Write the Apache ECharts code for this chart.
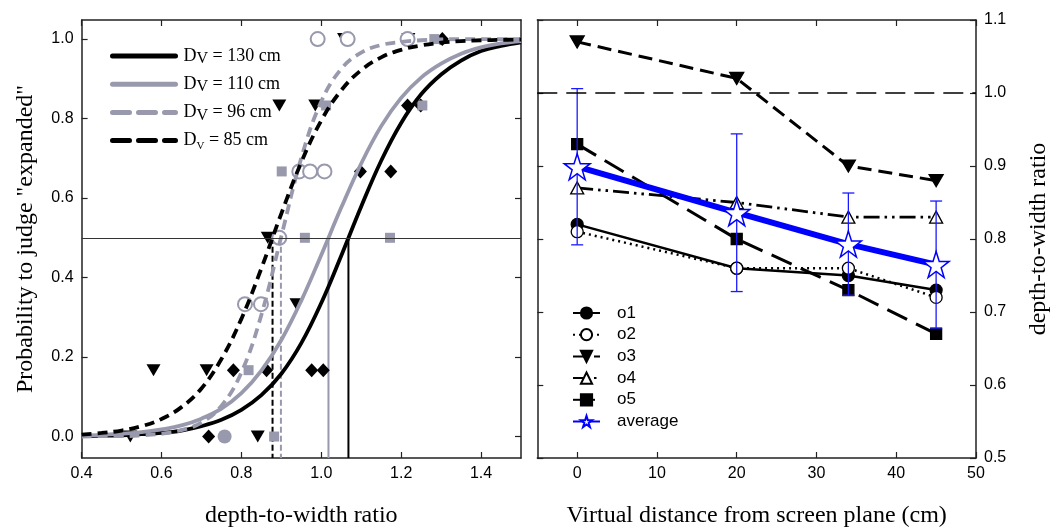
<!DOCTYPE html>
<html><head><meta charset="utf-8">
<script src="https://cdn.jsdelivr.net/npm/echarts@6/dist/echarts.min.js"></script>
<style>html,body{margin:0;padding:0;background:#fff;overflow:hidden}#c{width:1054px;height:527px}</style>
</head><body><div id="c"></div>
<script>
// ---- Left panel: psychometric curves ----
const curveX = [0.40,0.45,0.50,0.55,0.60,0.65,0.70,0.75,0.80,0.85,0.90,0.95,1.00,1.05,1.10,1.15,1.20,1.25,1.30,1.35,1.40,1.45,1.50];
const p130 = [0.001,0.002,0.003,0.006,0.009,0.015,0.026,0.042,0.067,0.104,0.158,0.235,0.336,0.455,0.579,0.694,0.789,0.861,0.911,0.946,0.970,0.983,0.992];
const p110 = [0.003,0.004,0.007,0.011,0.018,0.028,0.045,0.070,0.109,0.166,0.243,0.342,0.457,0.576,0.687,0.781,0.852,0.903,0.938,0.963,0.979,0.989,0.995];
const p96  = [0.000,0.001,0.001,0.003,0.007,0.016,0.035,0.077,0.161,0.306,0.504,0.701,0.843,0.925,0.966,0.985,0.993,0.997,0.999,1.000,1.000,1.000,1.000];
const p85  = [0.005,0.009,0.015,0.026,0.044,0.074,0.121,0.195,0.296,0.423,0.561,0.690,0.795,0.871,0.922,0.954,0.973,0.984,0.991,0.995,0.997,0.998,0.999];
const curveLabels = ['130','110','96','85'];
const pseValues = [1.068, 1.018, 0.899, 0.878];

// observed proportions
const pts130 = [[0.718,0],[0.78,0.167],[0.863,0.167],[0.976,0.167],[1.005,0.167],[1.098,0.667],[1.174,0.667],[1.216,0.833],[1.249,0.833],[1.303,1.0]];
const pts85  = [[0.522,0],[0.58,0.167],[0.713,0.167],[0.841,0],[0.866,0.5],[0.938,0.333],[0.895,0.833],[0.985,0.833],[1.057,1.0],[1.218,1.0]];
const pts110 = [[0.882,0],[0.818,0.167],[0.901,0.667],[0.959,0.5],[1.012,0.833],[1.172,0.5],[1.253,0.833],[1.283,1.0]];
const pts96  = [[0.991,1.0],[1.066,1.0],[1.216,1.0],[0.945,0.667],[0.972,0.667],[1.008,0.667],[0.895,0.5],[0.809,0.333],[0.849,0.333]];
const pts96b = [[0.758,0]];

// ---- Right panel ----
const distX = [0, 20, 34, 45];
const o1 = [0.82, 0.76, 0.75, 0.73];
const o2 = [0.81, 0.76, 0.76, 0.72];
const o3 = [1.07, 1.02, 0.90, 0.88];
const o4 = [0.87, 0.85, 0.83, 0.83];
const o5 = [0.93, 0.80, 0.73, 0.67];
const avg = [0.899, 0.836, 0.793, 0.765];
const avgErr = [0.107, 0.108, 0.070, 0.087];

const leftXTicks = [0.4,0.6,0.8,1.0,1.2,1.4];
const leftYTicks = [0,0.2,0.4,0.6,0.8,1.0];
const rightXTicks = [0,10,20,30,40,50];
const rightYTicks = [0.5,0.6,0.7,0.8,0.9,1.0,1.1];

const GRAY = '#9999ad';
const SANS = 'Liberation Sans';
const SERIF = 'Liberation Serif';
const LMIN = -0.054, LMAX = 1.048;

function ax(extra){
  return Object.assign({
    type:'value',
    axisLine:{show:true,onZero:false,lineStyle:{color:'#222',width:1.5}},
    splitLine:{show:false},
    axisLabel:{show:false}
  }, extra);
}
const tick = vals => ({show:true,inside:true,length:6,customValues:vals,lineStyle:{color:'#222',width:1.2}});
const lab = (vals, fmt) => ({show:true, customValues:vals, color:'#000', fontFamily:SANS, fontSize:16, formatter:fmt});
const titleStyle = {fontFamily:SERIF,fontSize:24,color:'#000'};

const xAxis = [
  ax({gridIndex:0, position:'bottom', min:0.4, max:1.5, axisTick:tick(leftXTicks),
      axisLabel:lab(leftXTicks, v=>v.toFixed(1)),
      name:'depth-to-width ratio', nameLocation:'middle', nameGap:46, nameTextStyle:titleStyle}),
  ax({gridIndex:0, position:'top', min:0.4, max:1.5, axisTick:tick(leftXTicks)}),
  ax({gridIndex:1, position:'bottom', min:-5, max:50, axisTick:tick(rightXTicks),
      axisLabel:lab(rightXTicks, v=>String(v)),
      name:'Virtual distance from screen plane (cm)', nameLocation:'middle', nameGap:46, nameTextStyle:titleStyle}),
  ax({gridIndex:1, position:'top', min:-5, max:50, axisTick:tick(rightXTicks)})
];
const yAxis = [
  ax({gridIndex:0, position:'left', min:LMIN, max:LMAX, axisTick:tick(leftYTicks),
      axisLabel:lab(leftYTicks, v=>v.toFixed(1)),
      name:'Probability to judge "expanded"', nameLocation:'middle', nameGap:44, nameRotate:90,
      nameTextStyle:titleStyle}),
  ax({gridIndex:0, position:'right', min:LMIN, max:LMAX, axisTick:tick(leftYTicks)}),
  ax({gridIndex:1, position:'right', min:0.5, max:1.1, axisTick:tick(rightYTicks),
      axisLabel:lab(rightYTicks, v=>v.toFixed(1)),
      name:'depth-to-width ratio', nameLocation:'middle', nameGap:51, nameRotate:90,
      nameTextStyle:titleStyle}),
  ax({gridIndex:1, position:'left', min:0.5, max:1.1, axisTick:tick(rightYTicks)})
];

const toPairs = (xs, ys) => xs.map((x,i)=>[x, ys[i]]);
const curveStyles = [
  {color:'#000', type:'solid'},
  {color:GRAY, type:'solid'},
  {color:GRAY, type:[10,6]},
  {color:'#000', type:[10,6]}
];
const curveData = [p130, p110, p96, p85];

const series = [];
// horizontal 0.5 line
series.push({type:'line', xAxisIndex:0, yAxisIndex:0, data:[], silent:true,
  markLine:{silent:true, symbol:'none', label:{show:false}, animation:false,
    lineStyle:{color:'#333', width:1, type:'solid'}, data:[{yAxis:0.5}]}});
// PSE vertical lines
pseValues.forEach((v,i)=>{
  series.push({type:'line', xAxisIndex:0, yAxisIndex:0, silent:true, symbol:'none',
    data:[[v,0.5],[v,LMIN]],
    lineStyle:{color:curveStyles[i].color, width:2, type: i>=2 ? [6,3] : 'solid'}, z:2});
});
// scatter points
const sc = (data, symbol, size, color, border, extra) => Object.assign({
  type:'scatter', xAxisIndex:0, yAxisIndex:0, data, symbol, symbolSize:size, silent:true,
  itemStyle:{color, opacity:1, borderColor:border||color, borderWidth: border?2:0}, z:3}, extra||{});
series.push(sc(pts130, 'diamond', [13,14], '#000'));
series.push(sc(pts85, 'triangle', [14,12], '#000', null, {symbolRotate:180}));
series.push(sc(pts110, 'rect', [10,10], GRAY));
series.push(sc(pts96, 'circle', 14, '#fff', GRAY));
series.push(sc(pts96b, 'circle', 14, GRAY));
// curves
curveLabels.forEach((lbl,i)=>{
  series.push({type:'line', name:'DV'+lbl, xAxisIndex:0, yAxisIndex:0, symbol:'none', smooth:0.4,
    data: toPairs(curveX, curveData[i]),
    lineStyle:{color:curveStyles[i].color, width:3.8, type:curveStyles[i].type},
    itemStyle:{color:curveStyles[i].color}, z:4});
});

// right panel: 1.0 dashed line
series.push({type:'line', xAxisIndex:2, yAxisIndex:2, data:[], silent:true,
  markLine:{silent:true, symbol:'none', label:{show:false}, animation:false,
    lineStyle:{color:'#000', width:1.5, type:[20,9]}, data:[{yAxis:1.0}]}});
const obs = [
  {name:'o1', d:o1, sym:'circle', size:12, fill:'#000', lt:'solid', w:2.5},
  {name:'o2', d:o2, sym:'circle', size:12, fill:'#fff', lt:[2,4], w:2.5},
  {name:'o3', d:o3, sym:'triangle', size:[14,12], fill:'#000', lt:[14,7], w:3, rot:180},
  {name:'o4', d:o4, sym:'triangle', size:[13,12], fill:'#fff', lt:[16,5,2.5,5,2.5,5], w:2.8},
  {name:'o5', d:o5, sym:'rect', size:11, fill:'#000', lt:[22,10], w:3}
];
obs.forEach(o=>{
  series.push({type:'line', name:o.name, xAxisIndex:2, yAxisIndex:2, data:toPairs(distX,o.d),
    symbol:o.sym, symbolSize:o.size, symbolRotate:o.rot||0, showAllSymbol:true,
    lineStyle:{color:'#000', width:o.w, type:o.lt},
    itemStyle:{color:o.fill, borderColor:'#000', borderWidth:1.3}, z:3});
});
// error bars
series.push({type:'custom', xAxisIndex:2, yAxisIndex:2, silent:true, z:4,
  data: distX.map((x,i)=>[x, avg[i]-avgErr[i], avg[i]+avgErr[i]]),
  encode:{x:0, y:[1,2]},
  renderItem(params, api){
    const x = api.value(0);
    const lo = api.coord([x, api.value(1)]);
    const hi = api.coord([x, api.value(2)]);
    const w = 6, st = {stroke:'#1a1aff', lineWidth:1.3};
    return {type:'group', children:[
      {type:'line', shape:{x1:lo[0],y1:lo[1],x2:hi[0],y2:hi[1]}, style:st},
      {type:'line', shape:{x1:lo[0]-w,y1:lo[1],x2:lo[0]+w,y2:lo[1]}, style:st},
      {type:'line', shape:{x1:hi[0]-w,y1:hi[1],x2:hi[0]+w,y2:hi[1]}, style:st}
    ]};
  }});
series.push({type:'line', name:'average', xAxisIndex:2, yAxisIndex:2, data:toPairs(distX,avg),
  symbol:'path://M50,0 L61.8,35.3 L99,35.3 L69,57.5 L80.3,92.7 L50,71 L19.7,92.7 L31,57.5 L1,35.3 L38.2,35.3 Z',
  symbolSize:26, showAllSymbol:true,
  lineStyle:{color:'#0000ff', width:6}, itemStyle:{color:'#fff', borderColor:'#0000ff', borderWidth:1.5}, z:5});

const legendLeftFmt = name => {
  const v = name.slice(2);
  const sub = v==='85' ? 's' : 'v';
  return '{d|D}{'+sub+'|V}{t| = '+v+' cm}';
};
const legendLeftData = curveLabels.map((l,i)=>{
  const item = {name:'DV'+l};
  if (i >= 2) item.lineStyle = {type:[17,9], cap:'round', width:5};
  else item.lineStyle = {width:5, cap:'round'};
  return item;
});

const option = {
  animation:false,
  backgroundColor:'#fff',
  grid:[
    {left:81.6, top:20, width:439.4, height:438, containLabel:false, outerBoundsMode:'none'},
    {left:537.3, top:20, width:438.7, height:438, containLabel:false, outerBoundsMode:'none'}
  ],
  xAxis, yAxis,
  legend:[
    {data:legendLeftData, orient:'vertical', left:105, top:42,
     itemWidth:63, itemHeight:14, itemGap:8.2,
     itemStyle:{opacity:0},
     lineStyle:{width:5},
     formatter:legendLeftFmt,
     textStyle:{fontFamily:SERIF, fontSize:18, color:'#000',
       rich:{
         d:{fontFamily:SERIF,fontSize:18,lineHeight:22,padding:[0,0,0,3],verticalAlign:'middle'},
         v:{fontFamily:SERIF,fontSize:16,lineHeight:22,verticalAlign:'bottom'},
         s:{fontFamily:SERIF,fontSize:11,lineHeight:20,verticalAlign:'bottom'},
         t:{fontFamily:SERIF,fontSize:18,lineHeight:22,verticalAlign:'middle'}
       }},
     selectedMode:false},
    {data:['o1','o2','o3','o4','o5','average'], orient:'vertical', left:567, top:298,
     itemWidth:27, itemHeight:14, itemGap:1.7, selectedMode:false,
     textStyle:{fontFamily:SANS, fontSize:17, color:'#000', lineHeight:20, padding:[0,0,0,12]}}
  ],
  series
};
const chart = echarts.init(document.getElementById('c'), null, {renderer:'canvas'});
chart.setOption(option);
</script></body></html>
